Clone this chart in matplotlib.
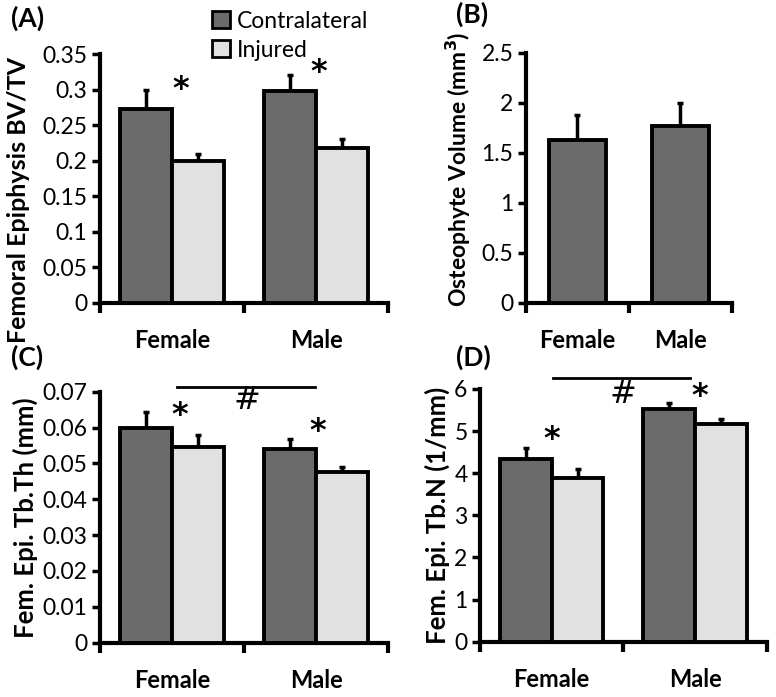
import numpy as np
import matplotlib
matplotlib.use('Agg')
import matplotlib.pyplot as plt
from matplotlib.patches import Patch

plt.rcParams['font.family'] = ['Lato', 'DejaVu Sans']

groups = ['Female', 'Male']

# (A) femoral epiphysis BV/TV
bvtv_contra = [0.273, 0.298]
bvtv_contra_err = [0.026, 0.022]
bvtv_inj = [0.199, 0.218]
bvtv_inj_err = [0.010, 0.013]

# (B) osteophyte volume
osteo = [1.63, 1.77]
osteo_err = [0.25, 0.23]

# (C) Tb.Th
tbth_contra = [0.060, 0.054]
tbth_contra_err = [0.0043, 0.0028]
tbth_inj = [0.0547, 0.0477]
tbth_inj_err = [0.0032, 0.0012]

# (D) Tb.N
tbn_contra = [4.33, 5.53]
tbn_contra_err = [0.28, 0.14]
tbn_inj = [3.88, 5.16]
tbn_inj_err = [0.22, 0.13]

dark = '#6b6b6b'
light = '#e1e1e1'

fig = plt.figure(figsize=(7.76, 6.97), dpi=100)


def gfmt(v):
    return ('%.2f' % v).rstrip('0').rstrip('.')


def style_axes(ax, ymax, ystep, ylabel, lsize=18.5):
    for s in ['top', 'right']:
        ax.spines[s].set_visible(False)
    for s in ['left', 'bottom']:
        ax.spines[s].set_linewidth(3)
    ax.set_xlim(-0.5, 1.5)
    ax.set_ylim(0, ymax)
    yt = np.arange(0, ymax + ystep / 2, ystep)
    ax.set_yticks(yt)
    ax.set_yticklabels([gfmt(v) for v in yt], fontsize=16.5)
    ax.tick_params(axis='y', length=6, width=2.5, pad=3)
    ax.set_xticks([0, 1])
    ax.set_xticklabels(groups, fontsize=17, fontweight='bold')
    ax.tick_params(axis='x', which='major', length=0, pad=19)
    ax.set_xticks([-0.5, 0.5, 1.5], minor=True)
    ax.tick_params(axis='x', which='minor', length=7, width=3)
    ax.set_ylabel(ylabel, fontsize=lsize, fontweight='bold', labelpad=3)


def paired(ax, c, ce, i, ie):
    x = np.arange(len(groups))
    w = 0.36
    ax.bar(x - w / 2, c, w, color=dark, edgecolor='black', linewidth=2.8, zorder=3)
    ax.bar(x + w / 2, i, w, color=light, edgecolor='black', linewidth=2.8, zorder=3)
    ax.errorbar(x - w / 2, c, yerr=[np.zeros(2), ce], fmt='none', ecolor='black',
                elinewidth=2.5, capsize=2.5, capthick=2.5, zorder=2)
    ax.errorbar(x + w / 2, i, yerr=[np.zeros(2), ie], fmt='none', ecolor='black',
                elinewidth=2.5, capsize=2.5, capthick=2.5, zorder=2)


def star(ax, x, y):
    ax.text(x, y, '*', fontsize=23, fontweight='bold', ha='center', va='center',
            family='DejaVu Sans', clip_on=False)


def hashmark(ax, x, y):
    ax.text(x, y, '#', fontsize=23, ha='center', va='center',
            family='DejaVu Sans', clip_on=False)


# panel A
axA = fig.add_axes([0.1289, 0.5653, 0.3711, 0.3572])
paired(axA, bvtv_contra, bvtv_contra_err, bvtv_inj, bvtv_inj_err)
style_axes(axA, 0.35, 0.05, 'Femoral Epiphysis BV/TV', lsize=18)
axA.yaxis.set_label_coords(-0.243, 0.414)
star(axA, 0.06, 0.300)
star(axA, 1.02, 0.324)

handles = [Patch(facecolor=dark, edgecolor='black', linewidth=2),
           Patch(facecolor=light, edgecolor='black', linewidth=2)]
fig.legend(handles, ['Contralateral', 'Injured'], loc='upper left',
           bbox_to_anchor=(0.262, 0.998), frameon=False, fontsize=16.5,
           handlelength=0.75, handleheight=0.8, handletextpad=0.3,
           labelspacing=0.35, borderaxespad=0)

# panel B
axB = fig.add_axes([0.6778, 0.5653, 0.2655, 0.3587])
xb = np.arange(len(groups))
axB.bar(xb, osteo, 0.56, color=dark, edgecolor='black', linewidth=2.8, zorder=3)
axB.errorbar(xb, osteo, yerr=[np.zeros(2), osteo_err], fmt='none', ecolor='black',
             elinewidth=2.5, capsize=2.5, capthick=2.5, zorder=2)
style_axes(axB, 2.5, 0.5, 'Osteophyte Volume (mm$^\\mathbf{3}$)', lsize=16.5)
axB.yaxis.set_label_coords(-0.257, 0.535)

# panel C
axC = fig.add_axes([0.1289, 0.0779, 0.3711, 0.3601])
paired(axC, tbth_contra, tbth_contra_err, tbth_inj, tbth_inj_err)
style_axes(axC, 0.07, 0.01, 'Fem. Epi. Tb.Th (mm)')
star(axC, 0.05, 0.0634)
star(axC, 1.01, 0.0590)
axC.plot([0.035, 0.993], [0.0714, 0.0714], color='black', lw=2, clip_on=False)
hashmark(axC, 0.52, 0.0676)

# panel D
axD = fig.add_axes([0.6186, 0.0793, 0.3695, 0.3626])
paired(axD, tbn_contra, tbn_contra_err, tbn_inj, tbn_inj_err)
style_axes(axD, 6, 1, 'Fem. Epi. Tb.N (1/mm)')
star(axD, 0.0, 4.8)
star(axD, 1.03, 5.83)
axD.plot([0.007, 0.965], [6.25, 6.25], color='black', lw=2, clip_on=False)
hashmark(axD, 0.5, 5.88)

# panel letters
for lab, x, y in [('(A)', 0.014, 0.974), ('(B)', 0.587, 0.979),
                  ('(C)', 0.014, 0.487), ('(D)', 0.587, 0.487)]:
    fig.text(x, y, lab, fontsize=19, fontweight='bold', ha='left', va='center')

fig.savefig('out.png', dpi=100)
